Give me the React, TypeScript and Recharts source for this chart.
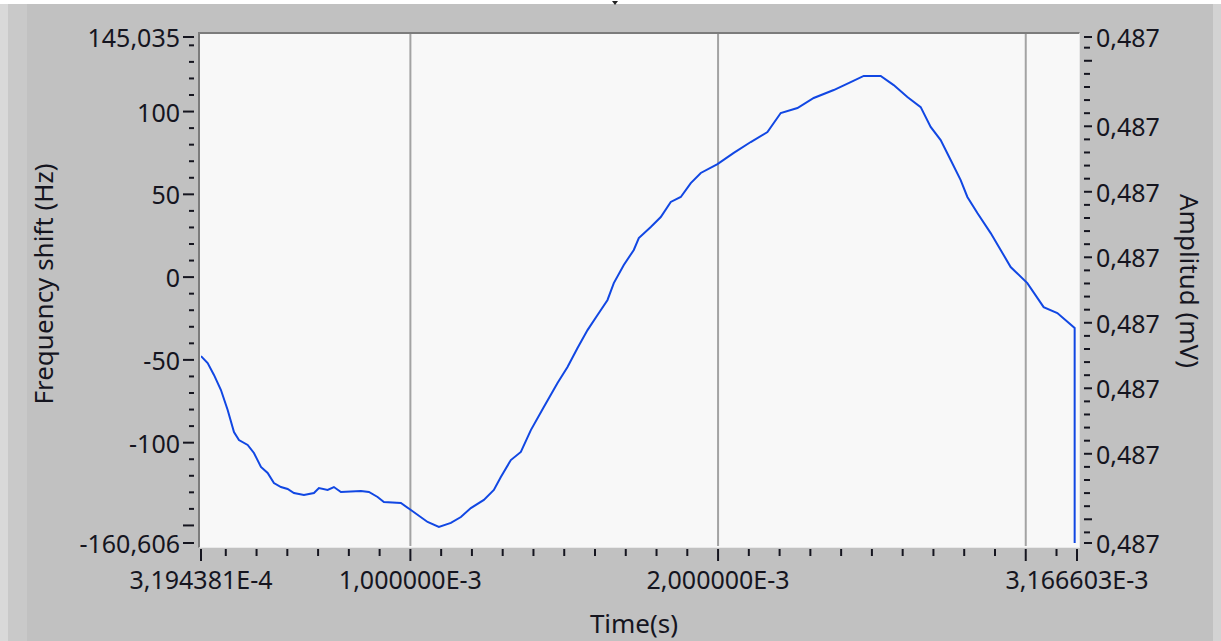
import React from 'react';
import { LineChart, Line, XAxis, YAxis, ReferenceLine } from 'recharts';

// Time axis (seconds) – first and last sample of the record
const T_START = 3.194381e-4;
const T_END = 3.166603e-3;

// Frequency axis limits (Hz)
const F_MIN = -160.606;
const F_MAX = 145.035;

// Amplitude axis limits (mV)
const AMP_MIN = 0.48696638;
const AMP_MAX = 0.48704363;

// Sample times in ms
const timeMs = [
  0.3194381, 0.3411, 0.3616, 0.3843, 0.4061, 0.4266, 0.4428, 0.4711, 0.4915, 0.5143,
  0.5361, 0.5565, 0.5793, 0.601, 0.6215, 0.654, 0.6865, 0.7027, 0.731, 0.7514,
  0.7742, 0.8392, 0.8652, 0.8934, 0.9139, 0.9691, 1.0016, 1.0559, 1.0926, 1.1316,
  1.1641, 1.1965, 1.2388, 1.2713, 1.294, 1.3265, 1.359, 1.3915, 1.4337, 1.4782,
  1.5107, 1.5432, 1.5757, 1.6082, 1.6407, 1.6611, 1.6936, 1.7261, 1.7424, 1.7813,
  1.8138, 1.8463, 1.8788, 1.9113, 1.9438, 1.9981, 2.051, 2.1062, 2.1605, 2.2037,
  2.258, 2.3109, 2.3759, 2.4311, 2.4734, 2.5286, 2.5708, 2.6153, 2.6586, 2.691,
  2.7235, 2.756, 2.7885, 2.8103, 2.8428, 2.886, 2.9185, 2.951, 3.0052, 3.0582,
  3.1027, 3.159, 3.159,
];

// Frequency shift in Hz
const freqHz = [
  -47.7, -51.9, -59.1, -68.2, -80.3, -93.6, -98.4, -101.4, -106.2, -114.7,
  -118.3, -124.4, -126.8, -128.0, -130.4, -131.6, -130.4, -127.4, -128.6, -126.8,
  -129.8, -129.2, -129.8, -132.8, -135.8, -136.4, -140.7, -147.9, -150.9, -148.5,
  -144.9, -139.5, -134.6, -128.6, -120.7, -110.5, -105.6, -92.4, -78.5, -64.0,
  -54.3, -42.8, -32.0, -22.9, -13.8, -3.6, 7.3, 16.4, 23.6, 30.3,
  36.3, 45.4, 48.4, 56.8, 62.9, 68.3, 75.0, 81.6, 87.6, 99.1,
  102.1, 108.2, 113.0, 117.8, 121.5, 121.5, 116.0, 108.8, 102.7, 90.7,
  82.8, 70.7, 58.6, 48.4, 38.7, 26.6, 16.4, 6.1, -3.6, -18.1,
  -21.7, -30.7, -160.606,
];

// Tick layout
const timeLabelTicks = [T_START, 0.001, 0.002, T_END];
const timeGridLines = [0.001, 0.002, 0.003];
const freqMajorTicks = [F_MIN, -150, -100, -50, 0, 50, 100, F_MAX];
const freqLabelTicks = [F_MIN, -100, -50, 0, 50, 100, F_MAX];
const ampLabelTicks = [AMP_MIN, 0.48698, 0.48699, 0.487, 0.48701, 0.48702, 0.48703, AMP_MAX];

const data = timeMs.map((ms, i) => ({ t: i === 0 ? T_START : ms / 1000, f: freqHz[i] }));

const timeTicks: number[] = [T_START];
for (let k = 4; k <= 31; k++) timeTicks.push(k / 10000);
timeTicks.push(T_END);
const isTimeMajor = (v: number) =>
  v === T_START || v === T_END || Math.abs(v * 1000 - Math.round(v * 1000)) < 1e-9;

const freqTicks: number[] = [...freqMajorTicks];
for (let v = -140; v <= 140; v += 10) if (!freqMajorTicks.includes(v)) freqTicks.push(v);
freqTicks.sort((a, b) => a - b);

const ampTicks: number[] = [AMP_MIN];
for (let m = 243484; m <= 243521; m++) ampTicks.push(m / 500000);
ampTicks.push(AMP_MAX);
const isAmpMajor = (v: number) =>
  v === AMP_MIN || v === AMP_MAX || Math.abs(v * 1e5 - Math.round(v * 1e5)) < 1e-6;

const INK = '#15151f';
const FONT = '"Noto Sans", "Open Sans", sans-serif';
const TICK_FONT = 25;

const fmtTime = (v: number) => v.toExponential(6).replace('.', ',').replace('e', 'E');
const fmtFreq = (v: number) => (Number.isInteger(v) ? String(v) : v.toFixed(3).replace('.', ','));
const fmtAmp = (v: number) => v.toFixed(3).replace('.', ',');

const TimeTick = ({ x, y, payload }: any) => {
  const v = payload.value;
  const major = isTimeMajor(v);
  const label = timeLabelTicks.some((t) => Math.abs(t - v) < 1e-12);
  return (
    <g>
      <line x1={x} x2={x} y1={y + 3} y2={y + (major ? 15 : 10)} stroke={INK} strokeWidth={2} />
      {label && (
        <text x={x} y={y + 33} textAnchor="middle" dominantBaseline="central" fontSize={TICK_FONT} fontFamily={FONT} fill={INK}>
          {fmtTime(v)}
        </text>
      )}
    </g>
  );
};

const FreqTick = ({ x, y, payload }: any) => {
  const v = payload.value;
  const major = freqMajorTicks.includes(v);
  return (
    <g>
      <line x1={x - (major ? 17 : 11)} x2={x - 6} y1={y} y2={y} stroke={INK} strokeWidth={2} />
      {freqLabelTicks.includes(v) && (
        <text x={x - 20} y={y} textAnchor="end" dominantBaseline="central" fontSize={TICK_FONT} fontFamily={FONT} fill={INK}>
          {fmtFreq(v)}
        </text>
      )}
    </g>
  );
};

const AmpTick = ({ x, y, payload }: any) => {
  const v = payload.value;
  const major = isAmpMajor(v);
  const label = ampLabelTicks.some((a) => Math.abs(a - v) < 1e-9);
  return (
    <g>
      <line x1={x + 6} x2={x + (major ? 14 : 12)} y1={y} y2={y} stroke={INK} strokeWidth={2} />
      {label && (
        <text x={x + 18} y={y} textAnchor="start" dominantBaseline="central" fontSize={TICK_FONT} fontFamily={FONT} fill={INK}>
          {fmtAmp(v)}
        </text>
      )}
    </g>
  );
};

const title = (text: string, x: number, y: number, angle: number) => () => (
  <text
    x={x}
    y={y}
    textAnchor="middle"
    dominantBaseline="central"
    transform={`rotate(${angle} ${x} ${y})`}
    fontSize={26}
    fontFamily={FONT}
    fill={INK}
  >
    {text}
  </text>
);

const App: React.FC = () => {
  return (
    <div
      style={{
        position: 'absolute',
        left: 0,
        top: 0,
        width: 1221,
        height: 641,
        background: '#c1c1c1',
        overflow: 'hidden',
      }}
    >
      {/* window edges */}
      <div style={{ position: 'absolute', left: 0, top: 0, width: 1221, height: 4, background: '#ffffff' }} />
      <div style={{ position: 'absolute', left: 0, top: 4, width: 8, height: 637, background: '#d9d9d9' }} />
      <div style={{ position: 'absolute', left: 8, top: 4, width: 19, height: 637, background: '#c9c9c9' }} />
      <div style={{ position: 'absolute', left: 1213, top: 4, width: 8, height: 637, background: '#d3d3d3' }} />
      <div
        style={{
          position: 'absolute',
          left: 612,
          top: 1,
          width: 0,
          height: 0,
          borderLeft: '3px solid transparent',
          borderRight: '3px solid transparent',
          borderTop: '4px solid #222',
        }}
      />

      {/* plot frame */}
      <div
        style={{
          position: 'absolute',
          left: 198,
          top: 32,
          width: 879,
          height: 513,
          background: '#f8f8f8',
          borderTop: '2px solid #7c7c7c',
          borderLeft: '2px solid #7c7c7c',
          borderBottom: '1px solid #e9e9e9',
          borderRight: '1px solid #e9e9e9',
        }}
      />

      <div style={{ position: 'absolute', left: 0, top: 0 }}>
        <LineChart width={1221} height={641} data={data} margin={{ top: 34, right: 0, bottom: 0, left: 0 }}>
          <XAxis
            dataKey="t"
            type="number"
            domain={[T_START, T_END]}
            allowDataOverflow
            ticks={timeTicks}
            interval={0}
            padding={{ left: 1, right: 1 }}
            height={95}
            axisLine={false}
            tickLine={false}
            tickSize={0}
            tickMargin={0}
            tick={<TimeTick />}
            label={{ content: title('Time(s)', 634, 623, 0) }}
          />
          <YAxis
            yAxisId="freq"
            type="number"
            domain={[F_MIN, F_MAX]}
            allowDataOverflow
            ticks={freqTicks}
            interval={0}
            padding={{ top: 3, bottom: 3 }}
            width={200}
            axisLine={false}
            tickLine={false}
            tickSize={0}
            tickMargin={0}
            tick={<FreqTick />}
            label={{ content: title('Frequency shift (Hz)', 43, 284, -90) }}
          />
          <YAxis
            yAxisId="amp"
            orientation="right"
            type="number"
            domain={[AMP_MIN, AMP_MAX]}
            allowDataOverflow
            ticks={ampTicks}
            interval={0}
            padding={{ top: 3, bottom: 3 }}
            width={143}
            axisLine={false}
            tickLine={false}
            tickSize={0}
            tickMargin={0}
            tick={<AmpTick />}
            label={{ content: title('Amplitud (mV)', 1190, 281, 90) }}
          />
          {timeGridLines.map((t) => (
            <ReferenceLine key={t} x={t} yAxisId="freq" stroke="#a3a3a3" strokeWidth={2} />
          ))}
          <Line
            yAxisId="freq"
            dataKey="f"
            type="linear"
            stroke="#1147e3"
            strokeWidth={2}
            dot={false}
            isAnimationActive={false}
          />
        </LineChart>
      </div>
    </div>
  );
};

export default App;
